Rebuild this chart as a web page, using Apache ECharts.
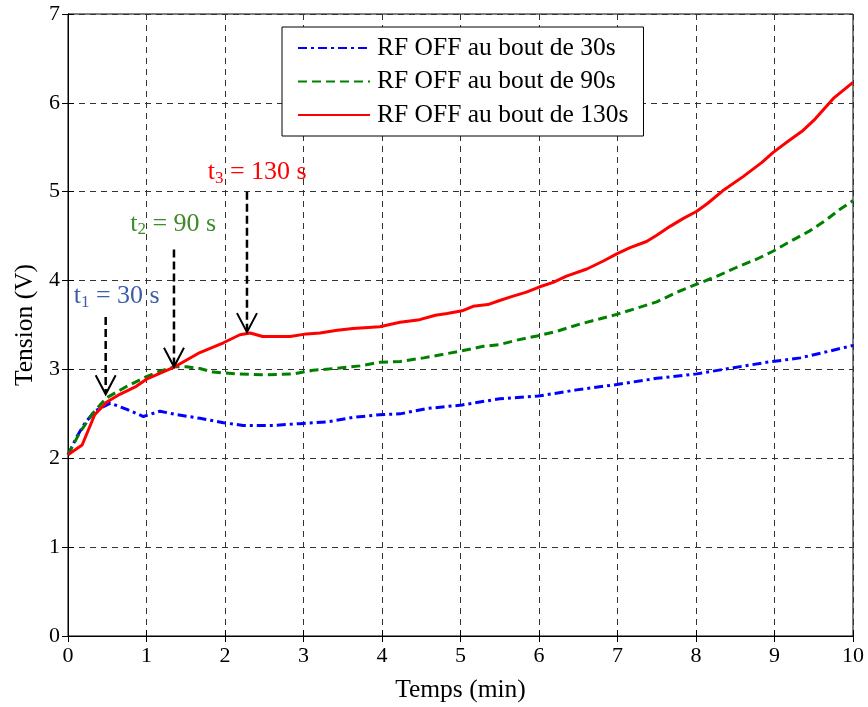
<!DOCTYPE html>
<html><head><meta charset="utf-8">
<script src="https://cdn.jsdelivr.net/npm/echarts@6/dist/echarts.min.js"></script>
<style>html,body{margin:0;padding:0;background:#fff}#c{width:868px;height:707px}</style>
</head><body><div id="c"></div>
<script>
var seriesNames = ['RF OFF au bout de 30s', 'RF OFF au bout de 90s', 'RF OFF au bout de 130s'];
var xTicks = [0,1,2,3,4,5,6,7,8,9,10];
var yTicks = [0,1,2,3,4,5,6,7];

var off30 = [[0,2.04],[0.11,2.24],[0.22,2.40],[0.34,2.53],[0.54,2.62],[0.75,2.55],[0.96,2.47],[1.17,2.53],[1.39,2.49],[1.68,2.45],[1.98,2.40],[2.23,2.37],[2.61,2.37],[2.96,2.39],[3.30,2.41],[3.63,2.46],[3.97,2.49],[4.23,2.50],[4.57,2.56],[5.02,2.60],[5.50,2.67],[5.99,2.70],[6.48,2.77],[6.99,2.83],[7.50,2.90],[8.01,2.95],[8.48,3.02],[8.90,3.08],[9.33,3.13],[9.67,3.20],[10,3.27]];
var off90 = [[0,2.04],[0.15,2.29],[0.32,2.51],[0.49,2.68],[0.75,2.81],[1.0,2.92],[1.17,2.98],[1.36,3.03],[1.51,3.03],[1.68,3.01],[1.85,2.97],[2.15,2.95],[2.53,2.94],[2.87,2.95],[3.12,2.99],[3.38,3.01],[3.72,3.04],[3.97,3.08],[4.23,3.09],[4.53,3.13],[4.78,3.17],[5.02,3.21],[5.29,3.26],[5.50,3.28],[5.72,3.33],[5.99,3.38],[6.23,3.43],[6.52,3.51],[6.78,3.57],[6.99,3.62],[7.25,3.69],[7.50,3.76],[7.76,3.87],[8.01,3.96],[8.27,4.05],[8.52,4.15],[8.77,4.24],[8.98,4.33],[9.20,4.44],[9.45,4.56],[9.67,4.69],[9.83,4.80],[10,4.90]];
var off130 = [[0,2.04],[0.18,2.15],[0.34,2.49],[0.49,2.63],[0.66,2.72],[0.87,2.81],[1.0,2.89],[1.36,3.03],[1.68,3.19],[1.98,3.30],[2.19,3.39],[2.32,3.41],[2.48,3.37],[2.83,3.37],[3.04,3.40],[3.21,3.41],[3.43,3.44],[3.63,3.46],[3.97,3.48],[4.23,3.53],[4.48,3.56],[4.68,3.61],[4.83,3.63],[5.02,3.66],[5.16,3.71],[5.35,3.73],[5.48,3.77],[5.65,3.82],[5.84,3.87],[6.01,3.93],[6.18,3.98],[6.35,4.05],[6.61,4.13],[6.82,4.22],[6.99,4.30],[7.16,4.37],[7.37,4.44],[7.50,4.51],[7.67,4.61],[7.84,4.70],[8.01,4.78],[8.15,4.87],[8.34,5.01],[8.60,5.17],[8.84,5.33],[8.98,5.44],[9.16,5.56],[9.35,5.68],[9.52,5.82],[9.75,6.05],[10,6.23]];

var arrowX = [0.48, 1.35, 2.28];
var arrowTop = [3.59, 4.35, 5.0];
var arrowTip = [2.72, 3.03, 3.42];
var labelX = [0.62, 1.34, 2.41];
var labelY = [3.82, 4.64, 5.22];
var labelSub = ['1', '2', '3'];
var labelText = [' = 30 s', ' = 90 s', ' = 130 s'];
var labelColors = ['#3D5FA6', '#3F8A2A', '#FF0000'];

var FONT = '"Liberation Serif", "Times New Roman", serif';
var annoData = arrowX.map(function (x, i) { return [x, arrowTop[i], arrowTip[i], labelX[i], labelY[i], i]; });

var chart = echarts.init(document.getElementById('c'), null, {renderer: 'canvas'});
var gridLine = {show: true, lineStyle: {color: '#333', type: [6, 5], width: 1}};
var option = {
  backgroundColor: '#fff',
  animation: false,
  grid: {left: 68, right: 15, top: 14, bottom: 71, show: true, borderColor: '#000', borderWidth: 1,
         containLabel: false, outerBoundsMode: 'none'},
  legend: {
    data: seriesNames,
    orient: 'vertical',
    left: 282, top: 27,
    backgroundColor: '#fff',
    borderColor: '#000', borderWidth: 1, borderRadius: 0,
    padding: [8, 15, 8, 15],
    itemWidth: 72, itemHeight: 14, itemGap: 7.5,
    itemStyle: {opacity: 0},
    textStyle: {fontFamily: FONT, fontSize: 25.5, lineHeight: 26, color: '#000', padding: [0, 0, 0, 2]}
  },
  xAxis: [{
    type: 'value', min: 0, max: 10, interval: 1,
    name: 'Temps (min)', nameLocation: 'middle', nameGap: 41,
    nameTextStyle: {fontFamily: FONT, fontSize: 25.5, color: '#000'},
    axisLine: {lineStyle: {color: '#000'}},
    axisTick: {inside: true, length: 6, lineStyle: {color: '#000'}},
    axisLabel: {fontFamily: FONT, fontSize: 22, color: '#000', margin: 9},
    splitLine: gridLine
  }, {
    type: 'value', min: 0, max: 10, interval: 1, position: 'top',
    axisLine: {lineStyle: {color: '#000'}},
    axisTick: {inside: true, length: 6, lineStyle: {color: '#000'}},
    axisLabel: {show: false}, splitLine: {show: false}
  }],
  yAxis: [{
    type: 'value', min: 0, max: 7, interval: 1,
    name: 'Tension (V)', nameLocation: 'middle', nameGap: 29, nameRotate: 90,
    nameTextStyle: {fontFamily: FONT, fontSize: 25.5, color: '#000'},
    axisLine: {lineStyle: {color: '#000'}},
    axisTick: {inside: true, length: 6, lineStyle: {color: '#000'}},
    axisLabel: {fontFamily: FONT, fontSize: 22, color: '#000', margin: 8},
    splitLine: gridLine
  }, {
    type: 'value', min: 0, max: 7, interval: 1, position: 'right',
    axisLine: {lineStyle: {color: '#000'}},
    axisTick: {inside: true, length: 6, lineStyle: {color: '#000'}},
    axisLabel: {show: false}, splitLine: {show: false}
  }],
  series: [
    {name: seriesNames[0], type: 'line', data: off30, symbol: 'none', z: 3,
     itemStyle: {color: '#0000FF'},
     lineStyle: {color: '#0000FF', width: 3, type: [9, 4, 3, 4]}},
    {name: seriesNames[1], type: 'line', data: off90, symbol: 'none', z: 4,
     itemStyle: {color: '#008000'},
     lineStyle: {color: '#008000', width: 3, type: [9, 5]}},
    {name: seriesNames[2], type: 'line', data: off130, symbol: 'none', z: 5,
     itemStyle: {color: '#FF0000'},
     lineStyle: {color: '#FF0000', width: 3, type: 'solid'}},
    {name: 'annotations', type: 'custom', data: annoData, z: 10, silent: true,
     renderItem: function (params, api) {
       var x = api.value(0), yt = api.value(1), yp = api.value(2);
       var lx = api.value(3), ly = api.value(4), i = api.value(5);
       var top = api.coord([x, yt]);
       var tip = api.coord([x, yp]);
       var lp = api.coord([lx, ly]);
       return {
         type: 'group',
         children: [
           {type: 'line', shape: {x1: top[0], y1: top[1], x2: tip[0], y2: tip[1] - 2},
            style: {stroke: '#000', lineWidth: 2.5, lineDash: [8, 4]}},
           {type: 'polyline', shape: {points: [[tip[0] - 10, tip[1] - 19], [tip[0], tip[1]], [tip[0] + 10, tip[1] - 19]]},
            style: {stroke: '#000', lineWidth: 2, fill: null}},
           {type: 'text', x: lp[0], y: lp[1],
            style: {
              text: '{a|t}{s|' + labelSub[i] + '}{a|' + labelText[i] + '}',
              align: 'center', verticalAlign: 'middle',
              rich: {
                a: {fontFamily: FONT, fontSize: 26, fill: labelColors[i], color: labelColors[i]},
                s: {fontFamily: FONT, fontSize: 17, fill: labelColors[i], color: labelColors[i], padding: [12, 0, 0, 0]}
              }
            }}
         ]
       };
     }}
  ]
};
chart.setOption(option);
</script>
</body></html>
